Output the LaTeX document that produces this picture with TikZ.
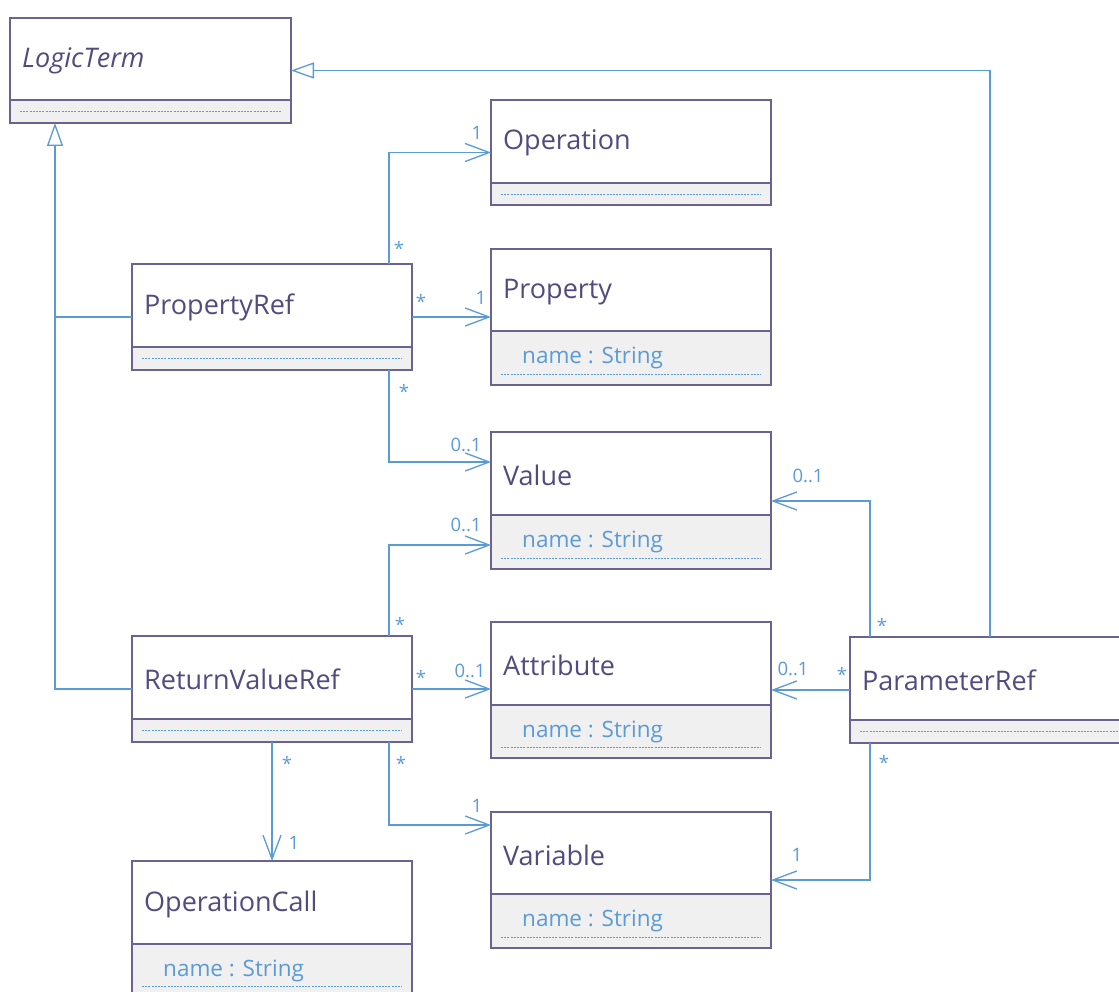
\documentclass[tikz,border=0pt]{standalone}
\usepackage{fontspec}
\setmainfont{Open Sans}
\usetikzlibrary{arrows.meta,calc}

\definecolor{boxline}{RGB}{108,98,146}
\definecolor{titletext}{RGB}{84,74,126}
\definecolor{assoc}{RGB}{91,155,213}
\definecolor{compfill}{RGB}{240,240,240}

\tikzset{
  classbox/.style={draw=boxline, line width=1.3pt, rectangle, anchor=north west, inner sep=0pt, outer sep=0pt},
  classtitle/.style={anchor=west, text=titletext, font=\fontsize{27}{30}\selectfont, inner sep=0pt},
  classattr/.style={anchor=west, text=assoc, font=\fontsize{22.5}{26}\selectfont, inner sep=0pt},
  attrdots/.style={draw=assoc, dash pattern=on 2pt off 1.2pt, line width=0.9pt},
  link/.style={draw=assoc, line width=1.3pt},
  nav/.style={link, -{Straight Barb[length=24pt, width=18pt, line width=1.3pt]}},
  gen/.style={link, -{Triangle[open, length=23pt, width=16pt, fill=white, line width=1.3pt]}},
  mult/.style={text=assoc, font=\fontsize{18.5}{20}\selectfont, inner sep=0pt},
}

% \umlclass{name}{x}{y}{width}{height}{divider offset}{title}{attribute}{dotted line offset}
\newcommand\umlclass[9]{%
  \fill[compfill] (#2,#3+#6) rectangle (#2+#4,#3+#5);
  \draw[attrdots] (#2+10,#3+#9) -- (#2+#4-10,#3+#9);
  \node[classbox, minimum width=#4pt, minimum height=#5pt] (#1) at (#2,#3) {};
  \draw[boxline, line width=1.3pt] (#2,#3+#6) -- (#2+#4,#3+#6);
  \node[classtitle] (#1-title) at (#2+12,#3+43) {#7};
  \node[classattr] (#1-attr) at (#2+31,#3+#6+27) {#8};
}

\begin{document}
\begin{tikzpicture}[x=1pt, y=-1pt]
  \useasboundingbox (0,0) rectangle (1119,992);
  \fill[white] (0,0) rectangle (1119,992);
  \clip (0,0) rectangle (1119,992);

  % classes
  \umlclass{logic}{10}{18}{281}{105}{82}{\itshape LogicTerm}{}{93}
  \umlclass{op}{491}{100}{280}{105}{83}{Operation}{}{94}
  \umlclass{prop}{491}{249}{280}{136}{82}{Property}{name : String}{125}
  \umlclass{pref}{132}{264}{280}{106}{83}{PropertyRef}{}{94}
  \umlclass{val}{491}{432}{280}{137}{83}{Value}{name : String}{126}
  \umlclass{rvr}{132}{636}{280}{106}{83}{ReturnValueRef}{}{94}
  \umlclass{attr}{491}{622}{280}{136}{83}{Attribute}{name : String}{125}
  \umlclass{param}{850}{637}{280}{106}{83}{ParameterRef}{}{94}
  \umlclass{var}{491}{812}{280}{136}{82}{Variable}{name : String}{125}
  \umlclass{oc}{132}{861}{280}{136}{83}{OperationCall}{name : String}{125}

  % generalizations
  \draw[gen] (param.north) |- (logic.east);
  \coordinate (gentip) at ($(logic.south west)+(45,0)$);
  \draw[link] (pref.west) -- (pref.west -| gentip);
  \draw[gen] (rvr.west) -| (gentip);

  % associations of PropertyRef
  \draw[nav] ($(pref.north west)+(257,0)$) |- (op.west);
  \draw[nav] (pref.east) -- (prop.west |- pref.east);
  \draw[nav] ($(pref.south west)+(257,0)$) |- ($(val.north west)+(0,30)$);

  % associations of ReturnValueRef
  \draw[nav] ($(rvr.north west)+(257,0)$) |- ($(val.north west)+(0,113)$);
  \draw[nav] (rvr.east) -- (attr.west |- rvr.east);
  \draw[nav] ($(rvr.south west)+(257,0)$) |- ($(var.north west)+(0,13)$);
  \draw[nav] (rvr.south) -- (oc.north);

  % associations of ParameterRef
  \draw[nav] ($(param.north west)+(20,0)$) |- ($(val.north east)+(0,69)$);
  \draw[nav] (param.west) -- (attr.east |- param.west);
  \draw[nav] ($(param.south west)+(20,0)$) |- ($(var.north east)+(0,68)$);

  % multiplicities
  \node[mult] (m1) at (399,248) {*};
  \node[mult] (m2) at (477,133) {1};
  \node[mult] (m3) at (421,301) {*};
  \node[mult] (m4) at (481,298) {1};
  \node[mult] (m5) at (404,391) {*};
  \node[mult] (m6) at (466,445) {0..1};
  \node[mult] (m7) at (400,624) {*};
  \node[mult] (m8) at (466,525) {0..1};
  \node[mult] (m9) at (421,677) {*};
  \node[mult] (m10) at (470,671) {0..1};
  \node[mult] (m11) at (401,763) {*};
  \node[mult] (m12) at (477,806) {1};
  \node[mult] (m13) at (287,763) {*};
  \node[mult] (m14) at (294,843) {1};
  \node[mult] (m15) at (882,625) {*};
  \node[mult] (m16) at (808,476) {0..1};
  \node[mult] (m17) at (842,674) {*};
  \node[mult] (m18) at (793,669) {0..1};
  \node[mult] (m19) at (884,762) {*};
  \node[mult] (m20) at (797,855) {1};
\end{tikzpicture}
\end{document}
